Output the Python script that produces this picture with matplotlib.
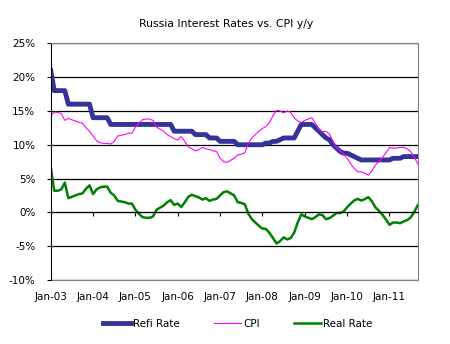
import numpy as np
import matplotlib
matplotlib.use("Agg")
import matplotlib.pyplot as plt

# monthly, Jan-2003 .. Sep-2011
refi = [21, 18, 18, 18, 18, 16, 16, 16, 16, 16, 16, 16,
        14, 14, 14, 14, 14, 13, 13, 13, 13, 13, 13, 13,
        13, 13, 13, 13, 13, 13, 13, 13, 13, 13, 13, 12,
        12, 12, 12, 12, 12, 11.5, 11.5, 11.5, 11.5, 11, 11, 11,
        10.5, 10.5, 10.5, 10.5, 10.5, 10, 10, 10, 10, 10, 10, 10,
        10, 10.25, 10.25, 10.5, 10.5, 10.75, 11, 11, 11, 11, 12, 13,
        13, 13, 13, 12.5, 12, 11.5, 11, 10.75, 10, 9.5, 9, 8.75,
        8.75, 8.5, 8.25, 8, 7.75, 7.75, 7.75, 7.75, 7.75, 7.75, 7.75, 7.75,
        7.75, 8, 8, 8, 8.25, 8.25, 8.25, 8.25, 8.25]
cpi = [14.3, 14.8, 14.8, 14.6, 13.6, 13.9, 13.7, 13.5, 13.3, 13.2, 12.5, 12.0,
       11.3, 10.6, 10.3, 10.2, 10.2, 10.1, 10.5, 11.3, 11.4, 11.5, 11.7, 11.7,
       12.6, 13.2, 13.7, 13.8, 13.8, 13.6, 12.6, 12.3, 12.0, 11.5, 11.2, 10.9,
       10.7, 11.2, 10.5, 9.7, 9.4, 9.1, 9.3, 9.6, 9.4, 9.3, 9.1, 9.0,
       8.0, 7.5, 7.4, 7.7, 8.0, 8.5, 8.6, 8.8, 10.2, 11.0, 11.5, 12.0,
       12.4, 12.7, 13.3, 14.3, 15.1, 15.0, 14.7, 15.0, 14.8, 14.0, 13.5, 13.3,
       13.6, 13.8, 14.0, 13.2, 12.3, 11.9, 12.0, 11.6, 10.5, 9.6, 9.1, 8.6,
       8.0, 7.2, 6.5, 6.0, 6.0, 5.8, 5.5, 6.1, 7.0, 7.5, 8.1, 8.8,
       9.6, 9.5, 9.5, 9.6, 9.6, 9.4, 9.0, 8.2, 7.2]
real = [6.7, 3.2, 3.2, 3.4, 4.4, 2.1, 2.3, 2.5, 2.7, 2.8, 3.5, 4.0,
        2.7, 3.4, 3.7, 3.8, 3.8, 2.9, 2.5, 1.7, 1.6, 1.5, 1.3, 1.3,
        0.4, -0.2, -0.7, -0.8, -0.8, -0.6, 0.4, 0.7, 1.0, 1.5, 1.8, 1.1,
        1.3, 0.8, 1.5, 2.3, 2.6, 2.4, 2.2, 1.9, 2.1, 1.7, 1.9, 2.0,
        2.5, 3.0, 3.1, 2.8, 2.5, 1.5, 1.4, 1.2, -0.2, -1.0, -1.5, -2.0,
        -2.4, -2.45, -3.05, -3.8, -4.6, -4.25, -3.7, -4.0, -3.8, -3.0, -1.5, -0.3,
        -0.6, -0.8, -1.0, -0.7, -0.3, -0.4, -1.0, -0.85, -0.5, -0.1, -0.1, 0.15,
        0.75, 1.3, 1.75, 2.0, 1.75, 1.95, 2.25, 1.65, 0.75, 0.25, -0.35, -1.05,
        -1.85, -1.5, -1.5, -1.6, -1.35, -1.15, -0.75, 0.05, 1.05]

x_labels = ["Jan-03", "Jan-04", "Jan-05", "Jan-06", "Jan-07",
            "Jan-08", "Jan-09", "Jan-10", "Jan-11"]
y_ticks = [-10, -5, 0, 5, 10, 15, 20, 25]

plt.rcParams["font.family"] = "DejaVu Sans"

x = np.arange(len(refi))
x_ticks = np.arange(len(x_labels)) * 12

fig = plt.figure(figsize=(4.5, 3.44), dpi=100)
ax = fig.add_axes([50.7 / 450, 1 - 280 / 344, 367 / 450, 236.7 / 344])

ax.plot(x, refi, color="#333399", lw=3.5, label="Refi Rate")
ax.plot(x, cpi, color="#ff00ff", lw=0.8, label="CPI")
ax.plot(x, real, color="#008000", lw=1.8, label="Real Rate")

ax.set_xlim(0, len(refi) - 1)
ax.set_ylim(-10, 25)
ax.set_yticks(y_ticks)
ax.set_yticklabels([f"{v}%" for v in y_ticks], fontsize=7.5)
ax.tick_params(axis="y", length=3, width=0.8, pad=8, color="black")
ax.yaxis.grid(True, color="black", lw=0.9)
ax.set_axisbelow(True)

# category axis crosses at 0
ax.spines["bottom"].set_position(("data", 0))
ax.spines["bottom"].set_color("black")
ax.set_xticks(x_ticks)
ax.set_xticklabels([])
ax.tick_params(axis="x", length=3, width=0.8, direction="out")

sec = ax.secondary_xaxis("bottom")
sec.set_xticks(x_ticks)
sec.set_xticklabels(x_labels, fontsize=7.5)
sec.tick_params(length=0, pad=9)
sec.spines["bottom"].set_color("#808080")

for s in ["top", "right"]:
    ax.spines[s].set_color("#808080")
ax.spines["left"].set_color("black")

fig.text(226 / 450, 1 - 27.3 / 344, "Russia Interest Rates vs. CPI y/y",
         ha="center", va="baseline", fontsize=7.8)

fig.legend(loc="center", bbox_to_anchor=(238 / 450, 1 - 324 / 344), ncol=3,
           frameon=False, fontsize=7.5, handlelength=2.6, handletextpad=0.2,
           columnspacing=3.3)

fig.savefig("out.png", dpi=100)
